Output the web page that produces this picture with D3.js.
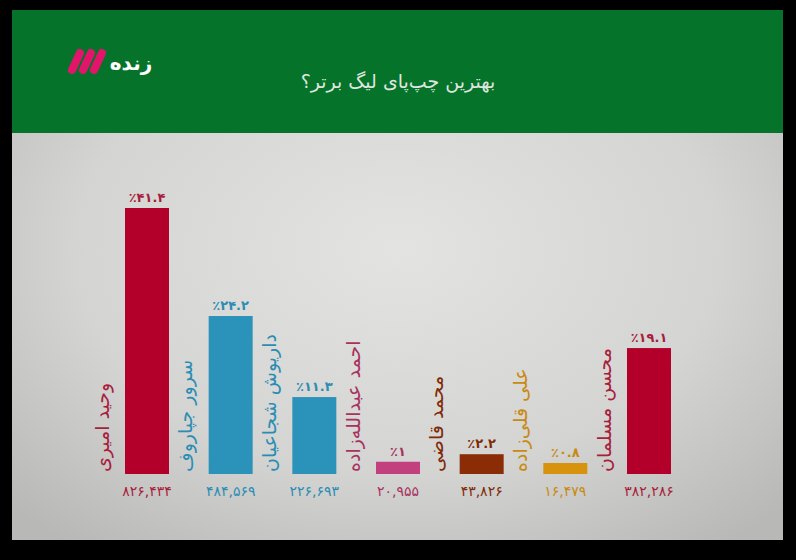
<!DOCTYPE html>
<html><head><meta charset="utf-8">
<script src="https://cdn.jsdelivr.net/npm/d3@7"></script>
<style>html,body{margin:0;padding:0;background:#000;}svg{display:block;}</style>
</head><body>
<svg id="c" width="796" height="560"></svg>
<script>
const names = ["وحید امیری","سرور جپاروف","داریوش شجاعیان","احمد عبدالله‌زاده","محمد قاضی","علی قلی‌زاده","محسن مسلمان"];
const percents = [41.4, 24.2, 11.3, 1, 2.2, 0.8, 19.1];
const votes = [826434, 484569, 226693, 20955, 43826, 16479, 382286];
const barColors = ["#b3002b","#2b93b9","#2b93b9","#c2407e","#8a2c05","#d7920e","#b3002b"];
const textColors = ["#a81e3c","#2a8db3","#2a8db3","#a8325e","#7f2a08","#c98a12","#a81e3c"];
const title = "بهترین چپ‌پای لیگ برتر؟";
const logoText = "زنده";

const fa = s => String(s).replace(/[0-9]/g, d => "۰۱۲۳۴۵۶۷۸۹"[+d]);
const svg = d3.select("#c");
const FONT = "'DejaVu Sans', sans-serif";

const defs = svg.append("defs");
const rg = defs.append("radialGradient").attr("id","bg").attr("cx","50%").attr("cy","45%").attr("r","70%");
rg.append("stop").attr("offset","0%").attr("stop-color","#e3e3e1");
rg.append("stop").attr("offset","60%").attr("stop-color","#d4d4d2");
rg.append("stop").attr("offset","100%").attr("stop-color","#b8b8b6");

svg.append("rect").attr("width",796).attr("height",560).attr("fill","#000");
svg.append("rect").attr("x",12).attr("y",10).attr("width",771).attr("height",530).attr("fill","url(#bg)");
svg.append("rect").attr("x",12).attr("y",10).attr("width",771).attr("height",123).attr("fill","#06732a");

// logo
const logo = svg.append("g");
[0,1,2].forEach(i => {
  logo.append("line").attr("x1",72+i*11).attr("y1",70).attr("x2",80+i*11).attr("y2",53)
    .attr("stroke","#e3156b").attr("stroke-width",8).attr("stroke-linecap","round");
});
logo.append("text").attr("x",131).attr("y",63).attr("dy","0.35em").attr("text-anchor","middle")
  .attr("fill","#fff").attr("font-family",FONT).attr("font-weight","bold").attr("font-size",20).text(logoText);

svg.append("text").attr("x",398).attr("y",81).attr("dy","0.35em").attr("text-anchor","middle")
  .attr("fill","#dfe6df").attr("font-family",FONT).attr("font-size",19).text(title);

// scales
const x = d3.scalePoint().domain(d3.range(names.length)).range([147, 649]);
const y = d3.scaleLinear().domain([-0.95, 41.4]).range([474, 208]);
const bw = 44;

const g = svg.append("g");
g.selectAll("rect.bar").data(percents).join("rect").attr("class","bar")
  .attr("x",(d,i)=>x(i)-bw/2).attr("y",d=>y(d)).attr("width",bw).attr("height",d=>y(-0.95)-y(d))
  .attr("fill",(d,i)=>barColors[i]);

g.selectAll("text.pct").data(percents).join("text").attr("class","pct")
  .attr("x",(d,i)=>x(i)).attr("y",d=>y(d)-6).attr("text-anchor","middle")
  .attr("fill",(d,i)=>textColors[i]).attr("font-family",FONT).attr("font-weight","bold").attr("font-size",13)
  .text(d=>"٪"+fa(d));

g.selectAll("text.vote").data(votes).join("text").attr("class","vote")
  .attr("x",(d,i)=>x(i)).attr("y",496).attr("text-anchor","middle")
  .attr("fill",(d,i)=>textColors[i]).attr("font-family",FONT).attr("font-size",14)
  .text(d=>fa(d3.format(",")(d)));

g.selectAll("text.name").data(names).join("text").attr("class","name")
  .attr("transform",(d,i)=>`translate(${x(i)-bw/2-23},472) rotate(-90)`)
  .attr("dy","0.35em").attr("text-anchor","start")
  .attr("fill",(d,i)=>textColors[i]).attr("font-family",FONT).attr("font-size",19)
  .text(d=>d);
</script>
</body></html>
